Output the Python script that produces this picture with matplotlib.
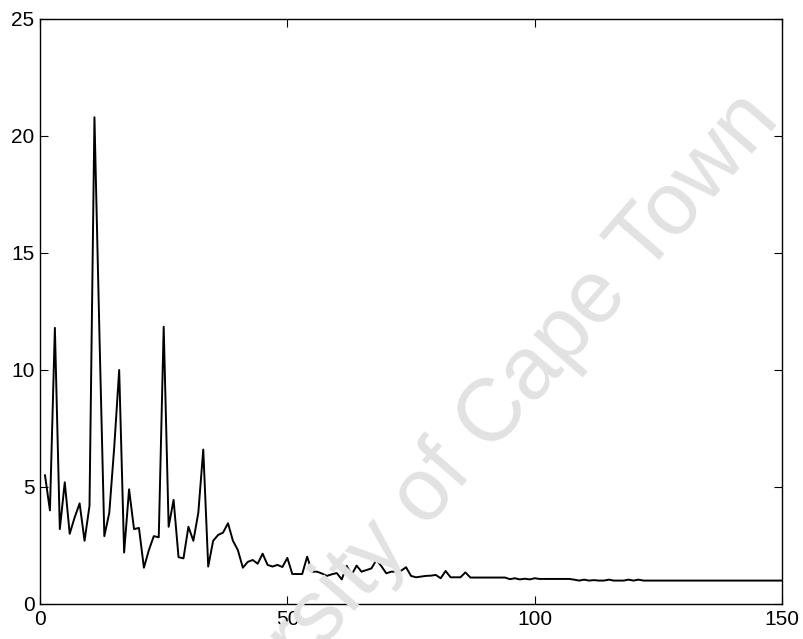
import numpy as np
import matplotlib.pyplot as plt

plt.rcParams["font.family"] = ["Liberation Sans", "DejaVu Sans"]

# --- Spectrum values, one per index (1..150) ---
head_values = [
    5.5, 4.0, 11.8, 3.2, 5.2, 3.0, 3.7, 4.3, 2.7, 4.2,
    20.8, 11.6, 2.9, 3.9, 6.7, 10.0, 2.2, 4.9, 3.2, 3.25,
    1.55, 2.3, 2.9, 2.85, 11.85, 3.3, 4.45, 2.0, 1.95, 3.3,
    2.7, 3.9, 6.6, 1.6, 2.7, 2.95, 3.05, 3.45, 2.7, 2.3,
    1.55, 1.8, 1.88, 1.72, 2.15, 1.67, 1.6, 1.67, 1.58, 1.97,
    1.28, 1.28, 1.28, 2.02, 1.38, 1.38, 1.3, 1.2, 1.27, 1.32,
    1.05, 1.63, 1.25, 1.64, 1.38, 1.45, 1.52, 1.88, 1.62, 1.31,
    1.38, 1.38, 1.42, 1.57, 1.2, 1.14, 1.17, 1.2, 1.21, 1.24,
    1.1, 1.41, 1.14, 1.14, 1.14, 1.35, 1.13,
]
tail_values = [
    1.13, 1.13, 1.13, 1.13, 1.13, 1.13, 1.13,
    1.06, 1.10, 1.05, 1.08, 1.05, 1.10, 1.07, 1.07, 1.07, 1.07,
    1.07, 1.07, 1.07, 1.04, 1.0, 1.04, 1.0, 1.02, 1.0, 1.0,
    1.04, 1.0, 1.0, 1.0, 1.04, 1.0, 1.04, 1.0,
]
flat_level = 1.0
n_points = 150

values = head_values + tail_values
values = values + [flat_level] * (n_points - len(values))
index = np.arange(1, n_points + 1)

x_ticks = [0, 50, 100, 150]
y_ticks = [0, 5, 10, 15, 20, 25]

fig = plt.figure(figsize=(8.04, 6.39), dpi=100)
ax = fig.add_axes([0.0498, 0.0548, 0.9228, 0.9155])

# faint watermark behind the data
fig.text(0.56, 0.27, "University of Cape Town", rotation=49, fontsize=64,
         color="#e2e2e2", ha="center", va="center", zorder=0)
ax.set_facecolor("none")

ax.plot(index, values, color="black", linewidth=1.4)

ax.set_xlim(0, 150)
ax.set_ylim(0, 25)
ax.set_xticks(x_ticks)
ax.set_yticks(y_ticks)
ax.tick_params(direction="in", top=True, right=True, length=6,
               labelsize=15, pad=4)
for spine in ax.spines.values():
    spine.set_linewidth(1.0)

fig.savefig("out.png", dpi=100)
